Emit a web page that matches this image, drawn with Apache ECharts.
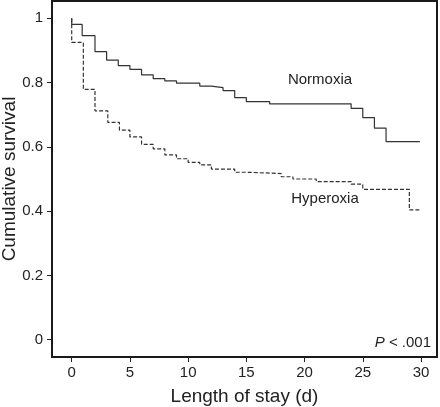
<!DOCTYPE html>
<html>
<head>
<meta charset="utf-8">
<script src="https://cdn.jsdelivr.net/npm/echarts@6/dist/echarts.min.js"></script>
<style>html,body{margin:0;padding:0;background:#fff;}#c{width:440px;height:407px;}</style>
</head>
<body>
<div id="c"></div>
<script>
const xTicks = [0, 5, 10, 15, 20, 25, 30];
const yTicks = [0, 0.2, 0.4, 0.6, 0.8, 1];
const normoxiaDays = [0, 0, 0.9, 2, 3, 4, 5, 6, 7, 8, 9, 11, 12, 13, 14, 15, 17, 24, 25, 26, 27, 29.9];
const normoxiaSurv = [1, 0.981, 0.946, 0.896, 0.870, 0.853, 0.841, 0.824, 0.812, 0.805, 0.798, 0.789, 0.784, 0.775, 0.753, 0.741, 0.734, 0.720, 0.691, 0.658, 0.616, 0.616];
const hyperoxiaDays = [0, 0, 1, 2, 3.1, 4.1, 5, 6, 7, 8, 9, 10, 11, 12, 14, 15, 18, 19, 21, 24, 25, 29, 30];
const hyperoxiaSurv = [1, 0.925, 0.779, 0.712, 0.676, 0.652, 0.631, 0.608, 0.594, 0.575, 0.563, 0.552, 0.544, 0.531, 0.521, 0.517, 0.507, 0.500, 0.492, 0.484, 0.468, 0.404, 0.404];

const zip = (a, b) => a.map((v, i) => [v, b[i]]);
const chart = echarts.init(document.getElementById('c'), null, {renderer: 'canvas'});
const font = 'Liberation Sans, Arial, sans-serif';
chart.setOption({
  animation: false,
  backgroundColor: '#fff',
  grid: {left: 52, right: 3, top: 1, bottom: 50, containLabel: false, outerBoundsMode: 'none',
         show: true, borderColor: '#1a1a1a', borderWidth: 2, backgroundColor: 'transparent'},
  xAxis: {
    type: 'value', min: -1.692, max: 31.375,
    name: 'Length of stay (d)', nameLocation: 'middle', nameGap: 30, nameMoveOverlap: false,
    nameTextStyle: {fontFamily: font, fontSize: 19, color: '#222'},
    axisLine: {show: true, onZero: false, lineStyle: {color: '#1a1a1a', width: 2}},
    axisTick: {show: true, length: 5, customValues: xTicks, lineStyle: {color: '#222', width: 1}},
    axisLabel: {customValues: xTicks, margin: 8, fontFamily: font, fontSize: 15, color: '#222'},
    splitLine: {show: false}
  },
  yAxis: {
    type: 'value', min: -0.0538, max: 1.0538,
    name: 'Cumulative survival', nameLocation: 'middle', nameGap: 33, nameMoveOverlap: false,
    nameTextStyle: {fontFamily: font, fontSize: 19, color: '#222'},
    axisLine: {show: true, onZero: false, lineStyle: {color: '#1a1a1a', width: 2}},
    axisTick: {show: true, length: 5, customValues: yTicks, lineStyle: {color: '#222', width: 1}},
    axisLabel: {customValues: yTicks, margin: 9, fontFamily: font, fontSize: 15, color: '#222'},
    splitLine: {show: false}
  },
  series: [
    {type: 'line', name: 'Normoxia', step: 'end', symbol: 'none', data: zip(normoxiaDays, normoxiaSurv),
     lineStyle: {color: '#333', width: 1.2}},
    {type: 'line', name: 'Hyperoxia', step: 'end', symbol: 'none', data: zip(hyperoxiaDays, hyperoxiaSurv),
     lineStyle: {color: '#333', width: 1.2, type: [4, 2]}}
  ],
  graphic: [
    {type: 'text', x: 320, y: 80, style: {text: 'Normoxia', fontFamily: font, fontSize: 15, fill: '#222', align: 'center', verticalAlign: 'middle'}},
    {type: 'text', x: 325, y: 199, style: {text: 'Hyperoxia', fontFamily: font, fontSize: 15, fill: '#222', align: 'center', verticalAlign: 'middle'}},
    {type: 'text', x: 431, y: 342.5, style: {text: '{i|P} < .001', fontFamily: font, fontSize: 15, fill: '#222', align: 'right', verticalAlign: 'middle',
      rich: {i: {fontStyle: 'italic', fontFamily: font, fontSize: 15, fill: '#222'}}}}
  ]
});
</script>
</body>
</html>
